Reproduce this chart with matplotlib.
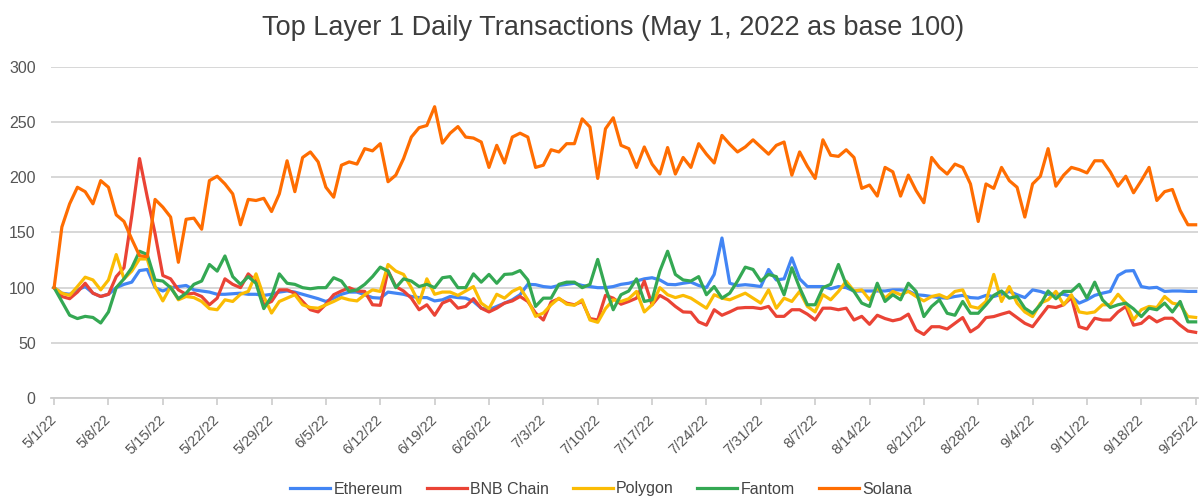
import matplotlib
matplotlib.use("Agg")
import matplotlib.pyplot as plt
import pandas as pd

# daily index, May 1 2022 = 100
dates = pd.date_range("2022-05-01", "2022-09-25", freq="D")

ethereum = [100, 95, 94, 98, 101, 95, 92, 94, 100, 103, 105, 115.5, 116.5, 100, 97, 100, 101, 102, 98, 97,
            96, 94, 94, 94.5, 95, 94, 94, 93, 94, 96, 97, 96, 94, 92, 90, 87.5,
            90.5, 94, 96, 96, 93.6, 91, 90.5, 96, 95, 94, 92, 91, 91, 88, 89, 92, 91, 90.5, 87.5, 81.4,
            80, 83, 86, 89, 93.6, 103, 102.7, 101, 100.3, 102, 103, 104, 102, 101, 100, 100, 101,
            103, 104, 106, 108, 109, 107, 103, 102.7, 104, 105, 102, 100, 112, 145, 104, 102, 102.7, 102,
            101, 116.5, 107, 108, 127, 108, 101, 101, 101, 99, 101, 100, 97, 97, 97, 97, 97, 98, 98, 97,
            93.6, 93, 92, 91, 90.5, 92, 93, 91, 90.5, 93, 92, 94, 96.6, 93.6, 91, 98, 96.6, 94, 94, 94,
            92, 86, 89, 93, 95, 96.6, 111, 115, 115.5, 101, 99.7, 100.3, 96.6, 97, 97, 96.6, 96.6]

bnb_chain = [100, 92, 90, 96, 104, 95, 92, 94, 110, 118, 165, 217, 182, 149, 111, 108, 98, 94, 95, 92,
             84.5, 90.5, 108, 103, 100, 112.5, 106, 84.5, 87.5, 98, 98, 95, 87.5, 80, 78, 85,
             93.6, 97, 100, 97, 96.6, 84.5, 84, 115.5, 101, 97, 90.5, 80, 84.5, 75, 86, 89, 81.4, 83, 90,
             81.4, 78, 81.4, 86, 88, 92, 87.5, 77, 70.7, 87, 90, 86, 84.5, 87.5, 72, 70.7, 93, 90.5,
             85, 87.5, 90.5, 106, 84.5, 93, 89, 83, 78, 77.7, 69, 66, 80, 75, 78, 81.4, 82, 82, 81, 83,
             74, 74, 80, 80, 76, 70.7, 81.4, 81.4, 80, 81.4, 70.7, 74, 66.8, 75, 72, 70, 71.6, 76,
             61.6, 57.6, 64.6, 64.6, 62.5, 67.7, 72.9, 60, 64.6, 72.9, 73.8, 76, 78, 72.9, 67.7, 64.6,
             73.8, 83, 82, 84.5, 91, 64.6, 62.5, 72.3, 70.7, 70.7, 78, 83, 66, 67.7, 73.8, 69, 72.3,
             72.3, 66, 60.7, 59.5]

polygon = [100, 95, 93, 101, 109.5, 107, 98, 107, 130, 108, 115, 126, 126, 101, 88, 101, 89, 92, 91, 87.5,
           81, 80, 89, 87.5, 94, 96.6, 112.5, 92, 77, 87.5, 90.5, 93.6, 84.5, 82, 81.4, 84.5,
           87.5, 91, 89, 88, 93.6, 98, 96.6, 121, 115, 112, 100, 86, 108, 94, 96, 96, 93, 97, 101, 86,
           81, 94, 90.5, 96.6, 100, 89, 74, 77, 84.5, 90.5, 85, 84, 89, 70.7, 68.6, 81, 89,
           87.5, 90, 96.6, 78, 84.5, 100, 93.6, 91, 93, 90.5, 86, 81.4, 93.6, 90.5, 89, 92, 95, 90.5,
           86, 98, 81.4, 90.5, 87.5, 96.6, 83, 78, 93.6, 89, 96.6, 105.8, 97, 98, 89, 100, 90.5, 96.6,
           93.6, 96.6,
           92, 88, 92, 93.6, 90.5, 96.6, 98, 83, 81.4, 87.5, 112, 87.5, 101, 86, 78, 73.8, 86, 89,
           96.6, 84.5, 93.6, 78, 76.8, 78, 84.5, 84.5, 94, 86, 70.7, 80, 83, 82, 92, 86, 84.5, 73.8, 73]

fantom = [100, 87.5, 75, 72, 74, 73, 68, 78, 100, 108, 118, 133, 130, 107, 106, 100, 90, 95, 103, 106,
          121, 115, 128.7, 110, 103, 110, 104, 81, 92, 112.5, 104, 103, 100, 99, 100, 100,
          109, 106, 96.6, 98, 103, 110, 118.6, 115, 100, 108, 106, 101, 103, 100, 109, 110, 100, 100,
          112.5, 105, 112, 104, 112, 112.5, 115.5, 107, 83, 90.5, 90.5, 103, 105, 105, 100, 103, 125.6,
          100, 80,
          93.6, 97, 108, 87.5, 89, 115, 133, 112, 107, 106, 110, 93.6, 101, 90.5, 95, 106, 118.6, 116.5,
          106, 112, 110, 93.6, 118, 100, 84.5, 84.5, 100, 103, 121, 102.7, 96.6, 86, 83, 104, 87.5,
          93.6, 89, 104,
          96.6, 73.8, 83, 89, 76.8, 75, 87.5, 76.8, 76.8, 84.5, 93, 97, 90.5, 92, 81.4, 76.8, 84.5, 97,
          90, 96.6, 96.6, 103, 90.5, 105, 89, 82, 84.5, 86, 80.8, 73.8, 81.4, 80, 86, 78, 87.5, 69, 69]

solana = [100, 155, 176, 191, 187, 176, 197, 191, 166, 160, 144, 129, 128, 180, 173, 164, 123, 162, 163, 153,
          197, 201, 194, 185, 157, 180, 179, 181, 169, 185, 215, 187, 218, 223, 214, 191, 182, 211, 214,
          212, 226, 224, 230.5, 196, 202, 217, 236.5, 245, 247, 264, 231, 240, 246, 236.5, 235.6, 232,
          209, 229, 213, 236.5, 240, 236.5, 209, 211, 225, 223, 230.5, 230.5, 253, 245.6, 199, 244, 254,
          229, 226, 209, 227.5, 212, 203, 227, 203, 218, 209, 230.5, 221, 213, 238, 230, 223, 227.5,
          234, 227.5, 221, 229, 232, 202, 223, 210, 199, 234, 220, 219, 225, 218, 190, 193, 183, 209,
          205, 183, 202, 188, 177, 218, 209, 203, 212, 209, 194, 160, 194, 190, 209, 197, 191, 164,
          194, 201, 226, 192, 202, 209, 207, 204, 215, 215, 205, 192, 201, 186, 197, 209, 179, 187,
          189, 170, 157, 157]

series = [("Ethereum", ethereum, "#4285F4"),
          ("BNB Chain", bnb_chain, "#EA4335"),
          ("Polygon", polygon, "#FBBC04"),
          ("Fantom", fantom, "#34A853"),
          ("Solana", solana, "#FF6D01")]

plt.rcParams["font.family"] = ["Liberation Sans", "DejaVu Sans"]

fig = plt.figure(figsize=(12.02, 5.0), dpi=100)
ax = fig.add_axes([51 / 1202, 1 - 398 / 500, 1147 / 1202, 331 / 500])

x = list(range(len(dates)))
for name, vals, col in series:
    ax.plot(x, vals, color=col, lw=2.3, label=name, solid_joinstyle="round")

ax.set_xlim(-0.4, len(dates) - 0.7)
ax.set_ylim(0, 300)
ax.set_yticks([0, 50, 100, 150, 200, 250, 300])
ax.grid(axis="y", color="#d4d4d4", lw=1.3)
ax.set_axisbelow(True)

tick_pos = x[::7]
tick_lab = [f"{d.month}/{d.day}/{d.year % 100}" for d in dates[::7]]
ax.set_xticks(tick_pos)
ax.set_xticklabels(tick_lab, rotation=45, ha="right", va="center", rotation_mode="anchor")

for s in ["top", "right", "left"]:
    ax.spines[s].set_visible(False)
ax.spines["bottom"].set_color("#cccccc")
ax.spines["bottom"].set_linewidth(1.3)
ax.tick_params(axis="x", colors="#cccccc", length=5, width=1.2, labelcolor="#555555",
               labelsize=10.5, pad=9)
ax.tick_params(axis="y", length=0, labelcolor="#555555", labelsize=11.5, pad=11)

fig.text(613 / 1202, 1 - 28 / 500, "Top Layer 1 Daily Transactions (May 1, 2022 as base 100)",
         ha="center", va="center", fontsize=19.5, color="#3d3d3d")

fig.legend(loc="center", bbox_to_anchor=(0.5, 11 / 500), ncol=5, frameon=False,
           fontsize=11.5, handlelength=2.5, handletextpad=0.2, columnspacing=1.5,
           labelcolor="#444444")

fig.savefig("out.png", dpi=100)
